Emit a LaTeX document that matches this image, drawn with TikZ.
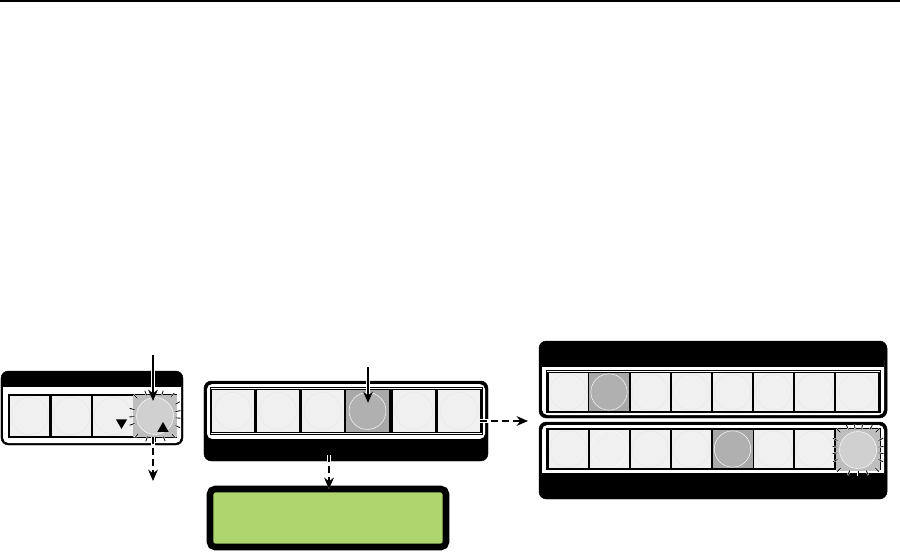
\documentclass[tikz,border=0pt]{standalone}
\usepackage{tikz}
\usetikzlibrary{arrows.meta, shapes.geometric}
\usepackage{xcolor}
\definecolor{keyface}{RGB}{240,240,240}
\definecolor{keyring}{RGB}{228,228,228}
\definecolor{keyon}{RGB}{168,168,168}
\definecolor{discon}{RGB}{176,176,176}
\definecolor{keylit}{RGB}{190,190,190}
\definecolor{disclit}{RGB}{208,208,208}
\definecolor{lcdgreen}{RGB}{174,213,110}
\tikzset{
  panel/.style   = {fill=black, draw=black, rounded corners=2.2mm, inner sep=0pt},
  frame/.style   = {fill=black, draw=black, line width=0.4pt, outer sep=0pt, inner sep=0pt},
  keybtn/.style  = {fill=keyface, inner sep=0pt, minimum height=#1},
  keybtn/.default = 1.2cm,
  disc/.style    = {circle, draw=keyring, line width=0.3pt, fill=keyface, inner sep=0pt, minimum size=1.11cm},
  discsel/.style = {disc, draw=white, fill=discon, line width=0.4pt},
  arrow/.style   = {-{Stealth[length=3.4mm, width=2.9mm]}, line width=1.7pt,
                    preaction={draw=white, line width=3.6pt}},
  dashedarrow/.style = {arrow, dash pattern=on 6pt off 3.4pt},
  ray/.style     = {line width=0.7pt, black, preaction={draw=white, line width=1.5pt}},
  tri/.style     = {regular polygon, regular polygon sides=3, fill=black, inner sep=0pt, minimum size=0.39cm},
}
\begin{document}
\begin{tikzpicture}[x=0.03cm, y=-0.03cm]
  \useasboundingbox (0,0) rectangle (900,552);
  \fill[black] (0,0) rectangle (900,2);

  % left panel
  \node[panel, minimum width=5.46cm, minimum height=2.22cm] (panelA) at (92,408) {};
  \fill[white, rounded corners=1.6mm] (3,380) rectangle (181,443);
  \fill[black] (3,375) rectangle (181,387);
  \node[frame, minimum width=5.04cm, minimum height=1.29cm] (frameA) at (92,415.5) {};
  \foreach \n/\x in {1/29.5, 2/71.5, 3/113} {
    \node[keybtn=1.2cm, minimum width=1.18cm] (a\n) at (\x,416) {};
    \node[disc] (da\n) at (a\n) {};
  }
  \node[keybtn=1.26cm, minimum width=1.32cm, fill=keylit] (a4) at (155,416) {};
  \foreach \a in {5,-12,-30,47,25,68,90,110,133,160,178,197,-135,-112,-95,-72,-50} {
    \pgfmathsetmacro{\r}{min(20.5/max(abs(cos(\a)),abs(sin(\a))),25)}
    \draw[ray] (a4.center) ++(\a:\r) -- ++(\a:5);
  }
  \node[discsel, fill=disclit] (da4) at (a4) {};
  \node[tri, rotate=180] (down) at (121.5,422.5) {};
  \node[tri] (up) at (163,428.5) {};

  % middle panel
  \node[panel, minimum width=8.52cm, minimum height=2.4cm] (panelB) at (346,421) {};
  \fill[white, rounded corners=1.6mm] (207,384) rectangle (485,439);
  \fill[black] (207,439) rectangle (485,443);
  \node[frame, minimum width=8.16cm, minimum height=1.41cm, fill=white] (frameB) at (346,410.5) {};
  \node[frame, minimum width=8.1cm, minimum height=1.29cm] (coreB) at (346,410.5) {};
  \foreach \n/\x in {1/233, 2/278, 3/322.5, 5/414, 6/459} {
    \node[keybtn=1.26cm, minimum width=1.26cm] (b\n) at (\x,411) {};
    \node[disc] (db\n) at (b\n) {};
  }
  \node[keybtn=1.26cm, minimum width=1.29cm, fill=keyon] (b4) at (367.5,411) {};
  \node[discsel] (db4) at (b4) {};

  % display
  \node[panel, fill=lcdgreen, line width=5.6pt, rounded corners=1.5mm,
        minimum width=7.08cm, minimum height=1.74cm] (lcd) at (328,518) {};

  % right panel, upper row
  \node[panel, minimum width=10.44cm, minimum height=2.31cm] (panelC) at (713,379.5) {};
  \fill[white, rounded corners=1.6mm] (542,355) rectangle (884,415);
  \fill[black] (542,350) rectangle (884,367);
  \node[frame, minimum width=10.02cm, minimum height=1.26cm, fill=white] (frameC) at (713,391) {};
  \node[frame, minimum width=9.96cm, minimum height=1.17cm] (coreC) at (713,391.5) {};
  \foreach \n/\x in {1/568, 3/650, 4/691, 5/732.5, 6/773.5, 7/814.5} {
    \node[keybtn=1.14cm, minimum width=1.17cm] (c\n) at (\x,392) {};
    \node[disc, minimum size=1.09cm] (dc\n) at (c\n) {};
  }
  \node[keybtn=1.14cm, minimum width=1.27cm] (c8) at (857,392) {};
  \node[disc, minimum size=1.09cm] (dc8) at (c8) {};
  \node[keybtn=1.14cm, minimum width=1.2cm, fill=keyon] (c2) at (609,392) {};
  \node[discsel, minimum size=1.09cm] (dc2) at (c2) {};

  % right panel, lower row
  \node[panel, minimum width=10.44cm, minimum height=2.31cm] (panelD) at (713,460.5) {};
  \fill[white, rounded corners=1.6mm] (542,425) rectangle (884,480);
  \fill[black] (542,473) rectangle (884,490);
  \node[frame, minimum width=10.02cm, minimum height=1.23cm, fill=white] (frameD) at (713,448.5) {};
  \node[frame, minimum width=9.96cm, minimum height=1.17cm] (coreD) at (713,449) {};
  \foreach \n/\x in {1/568, 2/609, 3/650, 4/691, 6/773.5, 7/814.5} {
    \node[keybtn=1.14cm, minimum width=1.17cm] (e\n) at (\x,449) {};
    \node[disc, minimum size=1.09cm] (de\n) at (e\n) {};
  }
  \node[disc, draw=white, minimum size=1.09cm] at (e2) {};
  \node[keybtn=1.14cm, minimum width=1.2cm, fill=keyon] (e5) at (732.5,449) {};
  \node[discsel, minimum size=1.09cm] (de5) at (e5) {};
  \node[keybtn=1.26cm, minimum width=1.32cm, fill=keylit] (e8) at (858,450) {};
  \foreach \a in {8,-8,25,-25,46,68,90,112,134,155,172,188,205,-135,-115,-98,-80,-60,-45} {
    \pgfmathsetmacro{\r}{min(20.5/max(abs(cos(\a)),abs(sin(\a))),25)}
    \draw[ray] (e8.center) ++(\a:\r) -- ++(\a:5);
  }
  \node[discsel, fill=disclit] (de8) at (e8) {};

  % connectors
  \coordinate (inA) at (153,355);
  \coordinate (hitA) at (153,401);
  \coordinate (outA) at (153,437);
  \coordinate (endA) at (153,481);
  \coordinate (inB) at (368,367);
  \coordinate (hitB) at (368,403);
  \coordinate (outB) at (329,455);
  \coordinate (endB) at (329,489);
  \coordinate (outC) at (480,421);
  \coordinate (endC) at (528,421);
  \draw[arrow] (inA) -- (hitA);
  \draw[dashedarrow] (outA) -- (endA);
  \draw[arrow] (inB) -- (hitB);
  \draw[dashedarrow] (outB) -- (endB);
  \draw[dashedarrow] (outC) -- (endC);
\end{tikzpicture}
\end{document}
